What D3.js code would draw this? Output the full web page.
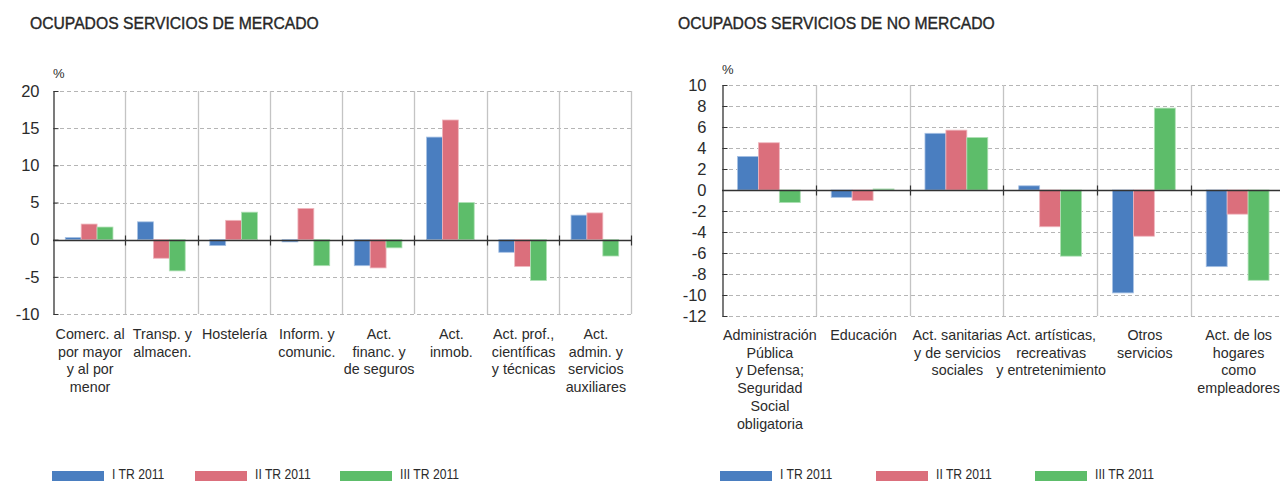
<!DOCTYPE html>
<html>
<head>
<meta charset="utf-8">
<script src="https://cdn.jsdelivr.net/npm/d3@7"></script>
<style>
  html, body { margin: 0; padding: 0; background: #fff; }
  svg { display: block; }
  text { font-family: "Liberation Sans", Arial, Helvetica, sans-serif; fill: #2b2b2b; }
</style>
</head>
<body>
<script>
// ---------- DATA ----------
const seriesNames = ["I TR 2011", "II TR 2011", "III TR 2011"];

const mercadoCategories = [
  ["Comerc. al", "por mayor", "y al por", "menor"],
  ["Transp. y", "almacen."],
  ["Hostelería"],
  ["Inform. y", "comunic."],
  ["Act.", "financ. y", "de seguros"],
  ["Act.", "inmob."],
  ["Act. prof.,", "científicas", "y técnicas"],
  ["Act.", "admin. y", "servicios", "auxiliares"]
];
const mercadoI   = [0.3,  2.4, -0.8, -0.3, -3.5, 13.8, -1.7,  3.3];
const mercadoII  = [2.1, -2.5,  2.6,  4.2, -3.8, 16.1, -3.6,  3.6];
const mercadoIII = [1.7, -4.2,  3.7, -3.5, -1.1,  5.0, -5.5, -2.2];
const mercadoTicks = [20, 15, 10, 5, 0, -5, -10];

const noMercadoCategories = [
  ["Administración", "Pública", "y Defensa;", "Seguridad", "Social", "obligatoria"],
  ["Educación"],
  ["Act. sanitarias", "y de servicios", "sociales"],
  ["Act. artísticas,", "recreativas", "y entretenimiento"],
  ["Otros", "servicios"],
  ["Act. de los", "hogares", "como", "empleadores"]
];
const noMercadoI   = [3.2, -0.7, 5.4,  0.4, -9.8, -7.3];
const noMercadoII  = [4.5, -1.0, 5.7, -3.5, -4.4, -2.3];
const noMercadoIII = [-1.2, 0.1, 5.0, -6.3,  7.8, -8.6];
const noMercadoTicks = [10, 8, 6, 4, 2, 0, -2, -4, -6, -8, -10, -12];

// ---------- STYLE ----------
const colors = ["#4a7ec0", "#db6f7c", "#5dbd6a"];
const strokes = ["#a8c2e4", "#efb6bd", "#b0e0b6"];

const svg = d3.select("body").append("svg")
  .attr("width", 1280).attr("height", 482);

function drawChart(opt) {
  const g = svg.append("g");
  const cats = opt.categories.map((d, i) => i);
  const x = d3.scaleBand().domain(cats).range([opt.x0, opt.x1]);
  const y = d3.scaleLinear().domain([opt.ticks[opt.ticks.length - 1], opt.ticks[0]])
    .range([opt.yBottom, opt.yTop]);
  const bw = x.bandwidth();
  const xs = d3.scaleBand().domain([0, 1, 2]).range([bw * opt.pad, bw * (1 - opt.pad)]);

  // title
  svg.append("text").attr("x", opt.titleX).attr("y", 28.5)
    .attr("font-size", 15.7).attr("fill", "#1a1a1a")
    .attr("stroke", "#1a1a1a").attr("stroke-width", 0.35)
    .text(opt.title);

  // horizontal dashed grid
  g.selectAll("line.grid").data(opt.ticks.filter(t => t !== 0)).enter().append("line")
    .attr("x1", opt.x0).attr("x2", opt.x1)
    .attr("y1", d => Math.round(y(d)) + 0.5).attr("y2", d => Math.round(y(d)) + 0.5)
    .attr("stroke", "#b5b5b5").attr("stroke-width", 1).attr("stroke-dasharray", "4,3");

  // vertical separators
  g.selectAll("line.sep").data(cats.map(i => x(i) + bw)).enter().append("line")
    .attr("x1", d => Math.round(d) + 0.5).attr("x2", d => Math.round(d) + 0.5)
    .attr("y1", y(opt.ticks[0])).attr("y2", y(opt.ticks[opt.ticks.length - 1]))
    .attr("stroke", "#c4c4c4").attr("stroke-width", 1.3);

  // bars
  const data = [];
  opt.categories.forEach((c, i) => {
    opt.series.forEach((s, k) => data.push({ cat: i, k: k, v: s[i] }));
  });
  g.selectAll("rect.bar").data(data).enter().append("rect")
    .attr("x", d => x(d.cat) + xs(d.k))
    .attr("width", xs.bandwidth())
    .attr("y", d => y(Math.max(0, d.v)))
    .attr("height", d => Math.abs(y(d.v) - y(0)))
    .attr("fill", d => colors[d.k])
    .attr("stroke", d => strokes[d.k]).attr("stroke-width", 0.8);

  // zero line
  const y0 = Math.round(y(0)) + 0.5;
  g.append("line").attr("x1", opt.x0).attr("x2", opt.x1)
    .attr("y1", y0).attr("y2", y0).attr("stroke", "#333").attr("stroke-width", 1.4);
  // zero-line ticks at separators
  g.selectAll("line.zt").data(cats.map(i => x(i) + bw)).enter().append("line")
    .attr("x1", d => Math.round(d) + 0.5).attr("x2", d => Math.round(d) + 0.5)
    .attr("y1", y0 - 5).attr("y2", y0 + 5)
    .attr("stroke", "#333").attr("stroke-width", 1.2);

  // y axis
  const axis = d3.axisLeft(y).tickValues(opt.ticks).tickSizeInner(-5).tickSizeOuter(0)
    .tickPadding(opt.tickPad).tickFormat(d => String(d));
  const ag = g.append("g").attr("transform", `translate(${opt.x0 + 0.5},0)`).call(axis);
  ag.select(".domain").attr("stroke", "#333").attr("stroke-width", 1.3);
  ag.selectAll(".tick line").attr("stroke", "#333");
  ag.selectAll(".tick text").attr("font-size", 16.5).attr("fill", "#222")
    .attr("font-family", "Liberation Sans, Arial, sans-serif");

  // percent sign
  g.append("text").attr("x", opt.x0).attr("y", opt.pctY).attr("font-size", 13).attr("fill", "#444").text("%");

  // category labels
  const lab = g.selectAll("text.cat").data(opt.categories).enter().append("text")
    .attr("text-anchor", "middle").attr("font-size", 14.3).attr("fill", "#2b2b2b")
    .attr("x", (d, i) => x(i) + bw / 2 + 1)
    .attr("y", opt.labelY);
  lab.selectAll("tspan").data(d => d).enter().append("tspan")
    .attr("x", function () { return d3.select(this.parentNode).attr("x"); })
    .attr("dy", (d, i) => i === 0 ? 0 : opt.lineH)
    .text(d => d);

  // legend
  const lg = svg.append("g").attr("class", "legend");
  seriesNames.forEach((name, k) => {
    lg.append("rect").attr("x", opt.legendX[k]).attr("y", 471)
      .attr("width", 52).attr("height", 10).attr("fill", colors[k]);
    lg.append("text")
      .attr("transform", `translate(${opt.legendX[k] + 60},479) scale(0.84,1)`)
      .attr("font-size", 14.5).attr("fill", "#333").text(name);
  });
}

drawChart({
  title: "OCUPADOS SERVICIOS DE MERCADO",
  titleX: 30,
  categories: mercadoCategories,
  series: [mercadoI, mercadoII, mercadoIII],
  ticks: mercadoTicks,
  x0: 53, x1: 631, yTop: 91, yBottom: 314,
  pad: 0.17, tickPad: 14,
  pctY: 78,
  labelY: 339, lineH: 17.5,
  legendX: [52, 195, 340]
});

drawChart({
  title: "OCUPADOS SERVICIOS DE NO MERCADO",
  titleX: 678,
  categories: noMercadoCategories,
  series: [noMercadoI, noMercadoII, noMercadoIII],
  ticks: noMercadoTicks,
  x0: 722, x1: 1284.5, yTop: 85, yBottom: 316,
  pad: 0.165, tickPad: 16,
  pctY: 74,
  labelY: 340, lineH: 17.7,
  legendX: [720, 876, 1035]
});
</script>
</body>
</html>
